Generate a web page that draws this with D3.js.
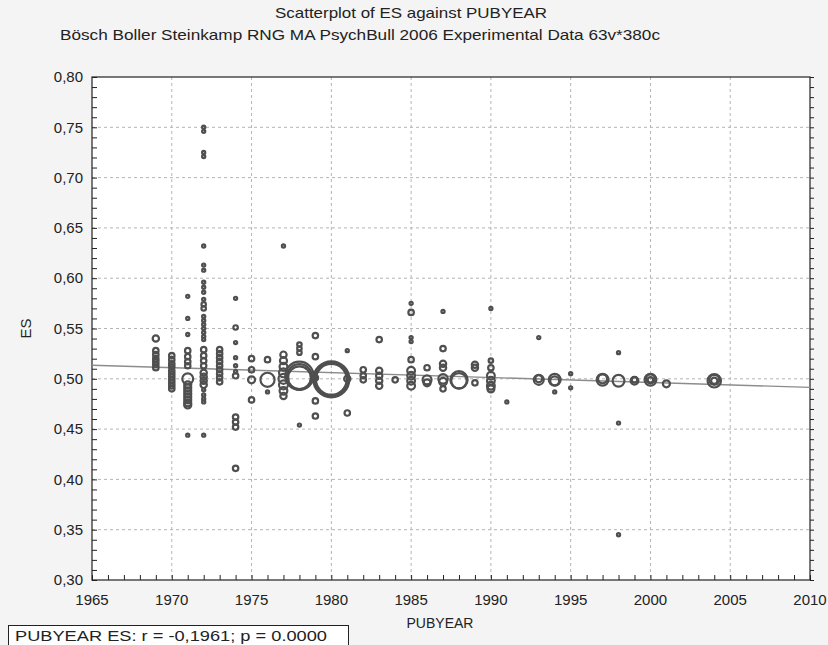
<!DOCTYPE html>
<html>
<head>
<meta charset="utf-8">
<script src="https://cdn.jsdelivr.net/npm/d3@7"></script>
<style>
  body { margin: 0; background: #f4f4f4; }
  text { font-family: "Liberation Sans Narrow", "Arial Narrow", "Liberation Sans", Arial, sans-serif; fill: #222; }
</style>
</head>
<body>
<div id="chart"></div>
<script>
// Width and height of chart
var width = 828;
var height = 645;

var titleText = "Scatterplot of ES against PUBYEAR";
var subtitleText = "Bösch Boller Steinkamp RNG MA PsychBull 2006 Experimental Data 63v*380c";
var xLabel = "PUBYEAR";
var yLabel = "ES";
var statText = "PUBYEAR ES:   r = -0,1961; p = 0.0000";

var xTicks = [1965, 1970, 1975, 1980, 1985, 1990, 1995, 2000, 2005, 2010];
var yTicks = [0.30, 0.35, 0.40, 0.45, 0.50, 0.55, 0.60, 0.65, 0.70, 0.75, 0.80];

// regression line end points (year, ES)
var fitYears = [1965, 2010];
var fitES = [0.5135, 0.4915];

// studies: publication year, effect size, weight (bubble size)
var pubYear = [
  1969,1969,1969,1969,1969,1969,1969,
  1970,1970,1970,1970,1970,1970,1970,1970,1970,1970,1970,
  1971,1971,1971,1971,1971,1971,1971,1971,1971,1971,1971,1971,1971,1971,1971,1971,1971,
  1972,1972,1972,1972,1972,1972,1972,1972,1972,1972,1972,1972,1972,1972,1972,1972,1972,1972,1972,1972,1972,1972,1972,1972,1972,1972,1972,1972,1972,1972,1972,1972,1972,
  1973,1973,1973,1973,1973,1973,1973,1973,1973,
  1974,1974,1974,1974,1974,1974,1974,1974,1974,1974,1974,
  1975,1975,1975,1975,
  1976,1976,1976,
  1977,1977,1977,1977,1977,1977,1977,1977,1977,
  1978,1978,1978,1978,1978,1978,1978,
  1979,1979,1979,1979,1979,
  1980,1980,1980,
  1981,1981,1981,
  1982,1982,1982,
  1983,1983,1983,1983,1983,
  1984,
  1985,1985,1985,1985,1985,1985,1985,1985,1985,
  1986,1986,1986,
  1987,1987,1987,1987,1987,1987,1987,
  1988,1988,
  1989,1989,1989,
  1990,1990,1990,1990,1990,1990,1990,
  1991,
  1993,1993,1993,
  1994,1994,1994,
  1995,1995,
  1997,1997,
  1998,1998,1998,1998,
  1999,1999,
  2000,2000,2000,
  2001,
  2004,2004,2004
];
var esValue = [
  0.540,0.528,0.524,0.520,0.517,0.514,0.511,
  0.523,0.519,0.515,0.512,0.508,0.505,0.502,0.499,0.496,0.493,0.490,
  0.582,0.560,0.544,0.528,0.522,0.517,0.513,0.500,0.494,0.491,0.488,0.485,0.482,0.479,0.476,0.474,0.444,
  0.750,0.746,0.725,0.721,0.632,0.613,0.608,0.596,0.591,0.586,0.579,0.574,0.570,0.562,0.558,0.554,0.550,0.546,0.542,0.539,0.529,0.523,0.518,0.513,0.506,0.502,0.498,0.494,0.489,0.484,0.480,0.477,0.444,
  0.529,0.525,0.521,0.517,0.513,0.509,0.505,0.501,0.497,
  0.580,0.551,0.536,0.521,0.513,0.507,0.503,0.462,0.457,0.452,0.411,
  0.520,0.509,0.499,0.479,
  0.519,0.499,0.487,
  0.632,0.524,0.518,0.512,0.506,0.500,0.494,0.488,0.483,
  0.534,0.530,0.526,0.503,0.502,0.501,0.454,
  0.543,0.522,0.501,0.478,0.463,
  0.4995,0.4995,0.4995,
  0.528,0.500,0.466,
  0.509,0.503,0.499,
  0.539,0.508,0.503,0.498,0.493,
  0.499,
  0.575,0.566,0.541,0.537,0.519,0.508,0.503,0.498,0.493,
  0.511,0.499,0.496,
  0.567,0.530,0.515,0.511,0.500,0.497,0.490,
  0.499,0.498,
  0.514,0.511,0.496,
  0.570,0.518,0.511,0.503,0.498,0.493,0.490,
  0.477,
  0.541,0.499,0.500,
  0.499,0.498,0.487,
  0.505,0.491,
  0.499,0.500,
  0.526,0.498,0.456,0.345,
  0.498,0.499,
  0.499,0.500,0.499,
  0.495,
  0.498,0.499,0.498
];
var weight = [
  4,3,3,3,3,3,3,
  3,3,3,3,3,3,3,3,3,3,3,
  1,1,1,3,3,3,3,12,5,5,5,5,5,5,5,5,1,
  1,1,1,1,1,1,1,1,1,1,1,2,2,1,1,1,1,1,1,1,3,3,3,3,4,4,4,4,1,1,1,1,1,
  3,3,3,3,3,3,3,3,3,
  1,2,1,1,1,1,3,3,3,3,3,
  3,3,5,3,
  3,20,1,
  1,4,5,6,8,10,8,6,4,
  2,2,2,80,64,52,1,
  3,3,3,3,3,
  130,110,95,
  1,4,3,
  3,3,3,
  3,4,4,4,4,
  3,
  1,3,1,1,3,6,6,6,6,
  3,8,5,
  1,3,4,4,9,6,3,
  30,24,
  4,4,3,
  1,2,3,6,6,6,5,
  1,
  1,10,5,
  14,8,1,
  1,1,
  14,8,
  1,14,1,1,
  6,3,
  14,8,3,
  5,
  18,10,4
];

var studies = pubYear.map(function(d, i) {
  return { year: d, es: esValue[i], w: weight[i] };
});
// draw big bubbles first so small ones stay visible
studies.sort(function(a, b) { return b.w - a.w; });

var margin = { left: 92, right: 18, top: 77, bottom: 65 };

var x = d3.scaleLinear()
  .domain([1965, 2010])
  .range([margin.left, width - margin.right]);

var y = d3.scaleLinear()
  .domain([0.30, 0.80])
  .range([height - margin.bottom, margin.top]);

var r = d3.scaleSqrt()
  .domain([0, 130])
  .range([0, 18]);

var fmt = function(d) { return d3.format(".2f")(d).replace(".", ","); };

var svg = d3.select("#chart")
  .append("svg")
  .attr("width", width)
  .attr("height", height);

// plot area
svg.append("rect")
  .attr("x", x(1965))
  .attr("y", y(0.80))
  .attr("width", x(2010) - x(1965))
  .attr("height", y(0.30) - y(0.80))
  .style("fill", "#fff");

// dashed grid
svg.append("g")
  .selectAll("line")
  .data(xTicks.slice(1, -1))
  .enter()
  .append("line")
    .attr("x1", function(d) { return x(d); })
    .attr("x2", function(d) { return x(d); })
    .attr("y1", y(0.80))
    .attr("y2", y(0.30))
    .style("stroke", "#b4b4b4")
    .style("stroke-dasharray", "3,3");

svg.append("g")
  .selectAll("line")
  .data(yTicks.slice(1, -1))
  .enter()
  .append("line")
    .attr("y1", function(d) { return y(d); })
    .attr("y2", function(d) { return y(d); })
    .attr("x1", x(1965))
    .attr("x2", x(2010))
    .style("stroke", "#b4b4b4")
    .style("stroke-dasharray", "3,3");

// axes: minor ticks every year / every 0.01
var leftAxis = d3.axisRight(y)
  .tickValues(d3.range(30, 81).map(function(d) { return d / 100; }))
  .tickSize(5)
  .tickFormat("");
svg.append("g")
  .attr("transform", "translate(" + x(1965) + ",0)")
  .call(leftAxis);

var rightAxis = d3.axisRight(y)
  .tickValues(d3.range(30, 81).map(function(d) { return d / 100; }))
  .tickSize(4)
  .tickFormat("");
svg.append("g")
  .attr("transform", "translate(" + x(2010) + ",0)")
  .call(rightAxis);

var bottomAxis = d3.axisTop(x)
  .tickValues(d3.range(1965, 2011))
  .tickSize(5)
  .tickFormat("");
svg.append("g")
  .attr("transform", "translate(0," + y(0.30) + ")")
  .call(bottomAxis);

svg.selectAll(".domain").remove();
svg.selectAll(".tick line").style("stroke", "#222");

// frame
svg.append("rect")
  .attr("x", x(1965))
  .attr("y", y(0.80))
  .attr("width", x(2010) - x(1965))
  .attr("height", y(0.30) - y(0.80))
  .style("fill", "none")
  .style("stroke", "#222")
  .style("stroke-width", 1.2);

// tick labels
svg.append("g")
  .selectAll("text")
  .data(yTicks)
  .enter()
  .append("text")
    .attr("x", x(1965) - 9)
    .attr("y", function(d) { return y(d); })
    .attr("dy", ".35em")
    .attr("text-anchor", "end")
    .style("font-size", "15px")
    .text(fmt);

svg.append("g")
  .selectAll("text")
  .data(xTicks)
  .enter()
  .append("text")
    .attr("x", function(d) { return x(d); })
    .attr("y", y(0.30) + 25)
    .attr("text-anchor", "middle")
    .style("font-size", "15px")
    .text(function(d) { return d; });

// regression line
svg.append("line")
  .attr("x1", x(fitYears[0]))
  .attr("y1", y(fitES[0]))
  .attr("x2", x(fitYears[1]))
  .attr("y2", y(fitES[1]))
  .style("stroke", "#8c8c8c")
  .style("stroke-width", 1.4);

// bubbles
svg.append("g")
  .selectAll("circle")
  .data(studies)
  .enter()
  .append("circle")
    .attr("cx", function(d) { return x(d.year); })
    .attr("cy", function(d) { return y(d.es); })
    .attr("r", function(d) { return r(d.w); })
    .style("fill", "none")
    .style("stroke", "#4f4f4f")
    .style("stroke-width", 2.2);

// titles
svg.append("text")
  .attr("x", 411)
  .attr("y", 18)
  .attr("text-anchor", "middle")
  .attr("textLength", 272)
  .attr("lengthAdjust", "spacingAndGlyphs")
  .style("font-size", "15px")
  .text(titleText);

svg.append("text")
  .attr("x", 360)
  .attr("y", 40)
  .attr("text-anchor", "middle")
  .attr("textLength", 600)
  .attr("lengthAdjust", "spacingAndGlyphs")
  .style("font-size", "15px")
  .text(subtitleText);

svg.append("text")
  .attr("transform", "translate(31," + ((y(0.30) + y(0.80)) / 2) + ") rotate(-90)")
  .attr("text-anchor", "middle")
  .style("font-size", "15px")
  .text(yLabel);

svg.append("text")
  .attr("x", 440)
  .attr("y", 628)
  .attr("text-anchor", "middle")
  .style("font-size", "14px")
  .text(xLabel);

// stats box
svg.append("rect")
  .attr("x", 8.5)
  .attr("y", 625.5)
  .attr("width", 340)
  .attr("height", 30)
  .style("fill", "#fff")
  .style("stroke", "#222");

svg.append("text")
  .attr("x", 15)
  .attr("y", 641)
  .attr("textLength", 312)
  .attr("lengthAdjust", "spacingAndGlyphs")
  .style("font-size", "15px")
  .text(statText);
</script>
</body>
</html>
